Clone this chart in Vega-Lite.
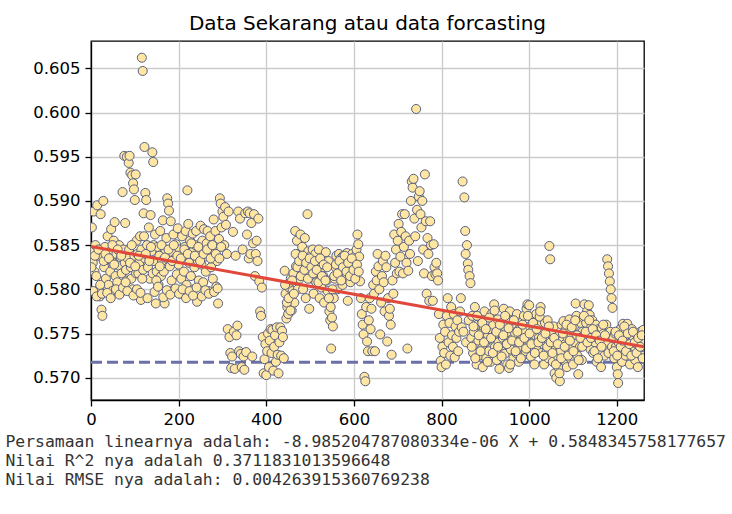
{
"$schema": "https://vega.github.io/schema/vega-lite/v6.json",
"autosize": "none",
"width": 553,
"height": 359,
"padding": {"left": 91, "top": 41, "right": 88, "bottom": 114},
"background": "white",
"title": {"text": "Data Sekarang atau data forcasting", "font": "DejaVu Sans", "fontSize": 20, "fontWeight": "normal", "color": "black", "anchor": "middle", "offset": 7},
"datasets": {
"pts": [
{"i":0,"v":0.5845},{"i":2,"v":0.5870},{"i":4,"v":0.5830},{"i":6,"v":0.5888},{"i":8,"v":0.5820},{"i":10,"v":0.5850},{"i":12,"v":0.5815},{"i":14,"v":0.5895},{"i":16,"v":0.5838},{"i":18,"v":0.5800},{"i":20,"v":0.5792},{"i":22,"v":0.5885},{"i":24,"v":0.5777},{"i":26,"v":0.5770},{"i":28,"v":0.5900},
{"i":30,"v":0.5825},{"i":32,"v":0.5848},{"i":34,"v":0.5812},{"i":36,"v":0.5835},{"i":38,"v":0.5860},{"i":40,"v":0.5805},{"i":42,"v":0.5842},{"i":44,"v":0.5820},{"i":46,"v":0.5868},{"i":48,"v":0.5798},{"i":50,"v":0.5830},{"i":52,"v":0.5855},{"i":54,"v":0.5876},{"i":56,"v":0.5815},{"i":58,"v":0.5840},{"i":60,"v":0.5808},{"i":62,"v":0.5827},{"i":64,"v":0.5850},{"i":66,"v":0.5795},{"i":68,"v":0.5836},{"i":70,"v":0.5818},{"i":72,"v":0.5910},{"i":74,"v":0.5845},
{"i":76,"v":0.5951},{"i":77,"v":0.5830},{"i":78,"v":0.5875},{"i":80,"v":0.5822},{"i":81,"v":0.5810},{"i":82,"v":0.5950},{"i":84,"v":0.5835},{"i":86,"v":0.5943},{"i":87,"v":0.5845},{"i":88,"v":0.5951},{"i":90,"v":0.5932},{"i":91,"v":0.5825},{"i":92,"v":0.5812},{"i":94,"v":0.5929},{"i":95,"v":0.5800},{"i":96,"v":0.5920},{"i":98,"v":0.5913},{"i":99,"v":0.5838},{"i":100,"v":0.5901},{"i":102,"v":0.5930},{"i":103,"v":0.5818},{"i":104,"v":0.5855},{"i":106,"v":0.5840},
{"i":108,"v":0.5818},{"i":110,"v":0.5830},{"i":112,"v":0.5860},{"i":114,"v":0.5788},{"i":115,"v":0.5845},{"i":116,"v":0.6062},{"i":118,"v":0.6047},{"i":119,"v":0.5822},{"i":120,"v":0.5886},{"i":121,"v":0.5860},{"i":122,"v":0.5961},{"i":123,"v":0.5835},{"i":124,"v":0.5909},{"i":126,"v":0.5901},{"i":128,"v":0.5850},{"i":130,"v":0.5825},{"i":132,"v":0.5870},{"i":134,"v":0.5812},{"i":136,"v":0.5884},{"i":138,"v":0.5843},{"i":140,"v":0.5955},{"i":141,"v":0.5818},{"i":142,"v":0.5944},{"i":143,"v":0.5850},{"i":144,"v":0.5832},{"i":146,"v":0.5862},{"i":148,"v":0.5784},{"i":150,"v":0.5820},{"i":152,"v":0.5848},{"i":154,"v":0.5805},{"i":156,"v":0.5838},{"i":158,"v":0.5866},{"i":160,"v":0.5815},
{"i":162,"v":0.5832},{"i":164,"v":0.5878},{"i":166,"v":0.5820},{"i":168,"v":0.5784},{"i":170,"v":0.5845},{"i":172,"v":0.5858},{"i":174,"v":0.5903},{"i":176,"v":0.5897},{"i":178,"v":0.5889},{"i":180,"v":0.5826},{"i":182,"v":0.5877},{"i":184,"v":0.5810},{"i":186,"v":0.5842},{"i":188,"v":0.5862},{"i":190,"v":0.5800},{"i":192,"v":0.5835},{"i":194,"v":0.5851},{"i":196,"v":0.5817},{"i":198,"v":0.5869},{"i":200,"v":0.5828},{"i":202,"v":0.5845},{"i":204,"v":0.5795},{"i":206,"v":0.5812},{"i":208,"v":0.5860},{"i":210,"v":0.5838},{"i":212,"v":0.5820},{"i":214,"v":0.5848},{"i":216,"v":0.5866},{"i":218,"v":0.5805},{"i":220,"v":0.5912},{"i":222,"v":0.5874},{"i":224,"v":0.5830},{"i":226,"v":0.5855},{"i":228,"v":0.5815},{"i":230,"v":0.5842},{"i":232,"v":0.5863},{"i":234,"v":0.5800},{"i":236,"v":0.5825},{"i":238,"v":0.5850},{"i":240,"v":0.5866},{"i":242,"v":0.5786},{"i":244,"v":0.5832},{"i":246,"v":0.5810},{"i":248,"v":0.5845},{"i":250,"v":0.5872},{"i":252,"v":0.5828},{"i":254,"v":0.5855},{"i":256,"v":0.5808},{"i":258,"v":0.5868},{"i":260,"v":0.5837},{"i":262,"v":0.5820},{"i":264,"v":0.5852},{"i":266,"v":0.5866},{"i":268,"v":0.5798},{"i":270,"v":0.5840},{"i":272,"v":0.5860},{"i":274,"v":0.5825},{"i":276,"v":0.5850},{"i":278,"v":0.5812},{"i":280,"v":0.5879},{"i":282,"v":0.5843},{"i":284,"v":0.5866},{"i":286,"v":0.5803},{"i":288,"v":0.5832},{"i":290,"v":0.5784},{"i":292,"v":0.5857},{"i":294,"v":0.5903},{"i":296,"v":0.5897},{"i":298,"v":0.5870},{"i":300,"v":0.5888},
{"i":302,"v":0.5882},{"i":304,"v":0.5850},{"i":306,"v":0.5893},{"i":308,"v":0.5873},{"i":310,"v":0.5840},{"i":312,"v":0.5755},{"i":314,"v":0.5888},{"i":316,"v":0.5746},{"i":318,"v":0.5728},{"i":320,"v":0.5711},{"i":322,"v":0.5724},{"i":324,"v":0.5865},{"i":326,"v":0.5752},{"i":328,"v":0.5710},{"i":330,"v":0.5838},{"i":332,"v":0.5748},{"i":334,"v":0.5759},{"i":336,"v":0.5888},{"i":338,"v":0.5730},{"i":340,"v":0.5880},{"i":342,"v":0.5727},{"i":344,"v":0.5712},{"i":346,"v":0.5845},{"i":348,"v":0.5724},{"i":350,"v":0.5709},{"i":352,"v":0.5886},{"i":354,"v":0.5729},{"i":356,"v":0.5862},{"i":358,"v":0.5888},{"i":360,"v":0.5835},{"i":362,"v":0.5886},{"i":364,"v":0.5840},{"i":366,"v":0.5875},{"i":368,"v":0.5724},{"i":370,"v":0.5852},{"i":372,"v":0.5885},{"i":374,"v":0.5815},{"i":376,"v":0.5840},{"i":378,"v":0.5855},{"i":380,"v":0.5832},{"i":382,"v":0.5880},{"i":384,"v":0.5809},{"i":386,"v":0.5775},{"i":388,"v":0.5770},{"i":390,"v":0.5802},
{"i":392,"v":0.5746},{"i":394,"v":0.5705},{"i":396,"v":0.5721},{"i":398,"v":0.5738},{"i":400,"v":0.5703},{"i":402,"v":0.5730},{"i":404,"v":0.5750},{"i":406,"v":0.5712},{"i":408,"v":0.5742},{"i":410,"v":0.5755},{"i":412,"v":0.5728},{"i":414,"v":0.5754},{"i":416,"v":0.5708},{"i":418,"v":0.5735},{"i":420,"v":0.5748},{"i":422,"v":0.5718},{"i":424,"v":0.5757},{"i":426,"v":0.5726},{"i":428,"v":0.5705},{"i":430,"v":0.5740},{"i":432,"v":0.5757},{"i":434,"v":0.5725},{"i":436,"v":0.5753},{"i":438,"v":0.5746},{"i":440,"v":0.5722},
{"i":442,"v":0.5821},{"i":444,"v":0.5795},{"i":446,"v":0.5767},{"i":448,"v":0.5780},{"i":450,"v":0.5772},{"i":452,"v":0.5802},{"i":454,"v":0.5790},{"i":456,"v":0.5812},{"i":458,"v":0.5776},{"i":460,"v":0.5798},{"i":462,"v":0.5818},{"i":464,"v":0.5785},{"i":466,"v":0.5866},{"i":468,"v":0.5826},{"i":470,"v":0.5855},{"i":472,"v":0.5800},{"i":474,"v":0.5840},{"i":476,"v":0.5812},{"i":478,"v":0.5862},{"i":480,"v":0.5822},{"i":482,"v":0.5848},{"i":484,"v":0.5800},{"i":486,"v":0.5835},{"i":488,"v":0.5858},{"i":490,"v":0.5790},{"i":492,"v":0.5817},{"i":494,"v":0.5885},{"i":496,"v":0.5843},{"i":498,"v":0.5778},{"i":500,"v":0.5820},
{"i":502,"v":0.5838},{"i":504,"v":0.5812},{"i":506,"v":0.5845},{"i":508,"v":0.5795},{"i":510,"v":0.5825},{"i":512,"v":0.5840},{"i":514,"v":0.5808},{"i":516,"v":0.5830},{"i":518,"v":0.5818},{"i":520,"v":0.5845},{"i":522,"v":0.5790},{"i":524,"v":0.5822},{"i":526,"v":0.5802},{"i":528,"v":0.5836},{"i":530,"v":0.5815},{"i":532,"v":0.5785},{"i":534,"v":0.5828},{"i":536,"v":0.5842},{"i":538,"v":0.5810},{"i":540,"v":0.5798},{"i":542,"v":0.5832},{"i":544,"v":0.5775},{"i":546,"v":0.5765},{"i":548,"v":0.5733},{"i":550,"v":0.5768},{"i":552,"v":0.5758},{"i":554,"v":0.5790},{"i":556,"v":0.5812},{"i":558,"v":0.5825},{"i":560,"v":0.5838},
{"i":562,"v":0.5800},{"i":564,"v":0.5829},{"i":566,"v":0.5840},{"i":568,"v":0.5815},{"i":570,"v":0.5835},{"i":572,"v":0.5822},{"i":574,"v":0.5805},{"i":576,"v":0.5838},{"i":578,"v":0.5826},{"i":580,"v":0.5812},{"i":582,"v":0.5832},{"i":584,"v":0.5841},{"i":586,"v":0.5787},{"i":588,"v":0.5820},{"i":590,"v":0.5836},{"i":592,"v":0.5808},{"i":594,"v":0.5828},{"i":596,"v":0.5840},{"i":598,"v":0.5815},{"i":600,"v":0.5832},{"i":602,"v":0.5822},{"i":604,"v":0.5838},{"i":606,"v":0.5845},{"i":608,"v":0.5862},{"i":610,"v":0.5851},{"i":612,"v":0.5837},
{"i":614,"v":0.5809},{"i":616,"v":0.5790},{"i":618,"v":0.5772},{"i":620,"v":0.5760},{"i":622,"v":0.5749},{"i":624,"v":0.5701},{"i":626,"v":0.5696},{"i":628,"v":0.5780},{"i":630,"v":0.5741},{"i":632,"v":0.5730},{"i":634,"v":0.5765},{"i":636,"v":0.5790},{"i":638,"v":0.5755},
{"i":640,"v":0.5778},{"i":642,"v":0.5730},{"i":644,"v":0.5805},{"i":646,"v":0.5795},{"i":648,"v":0.5730},{"i":650,"v":0.5820},{"i":652,"v":0.5810},{"i":654,"v":0.5840},{"i":656,"v":0.5826},{"i":658,"v":0.5800},{"i":660,"v":0.5749},{"i":662,"v":0.5785},{"i":664,"v":0.5815},{"i":666,"v":0.5832},{"i":668,"v":0.5808},{"i":670,"v":0.5775},{"i":672,"v":0.5838},{"i":674,"v":0.5825},{"i":676,"v":0.5741},{"i":678,"v":0.5790},{"i":680,"v":0.5770},{"i":682,"v":0.5778},{"i":684,"v":0.5760},{"i":686,"v":0.5726},{"i":688,"v":0.5810},{"i":690,"v":0.5795},{"i":692,"v":0.5862},{"i":694,"v":0.5830},{"i":696,"v":0.5845},{"i":698,"v":0.5818},{"i":700,"v":0.5855},
{"i":702,"v":0.5874},{"i":704,"v":0.5820},{"i":706,"v":0.5837},{"i":708,"v":0.5865},{"i":710,"v":0.5885},{"i":712,"v":0.5818},{"i":714,"v":0.5848},{"i":716,"v":0.5885},{"i":718,"v":0.5860},{"i":720,"v":0.5830},{"i":722,"v":0.5733},{"i":724,"v":0.5821},{"i":726,"v":0.5855},{"i":728,"v":0.5840},{"i":730,"v":0.5900},{"i":732,"v":0.5922},{"i":734,"v":0.5915},{"i":736,"v":0.5925},{"i":738,"v":0.5880},{"i":740,"v":0.5860},{"i":742,"v":0.6004},{"i":744,"v":0.5890},{"i":746,"v":0.5832},{"i":748,"v":0.5905},{"i":750,"v":0.5911},{"i":752,"v":0.5885},{"i":754,"v":0.5870},{"i":756,"v":0.5900},{"i":758,"v":0.5845},{"i":760,"v":0.5818},{"i":762,"v":0.5930},{"i":764,"v":0.5877},{"i":766,"v":0.5795},{"i":768,"v":0.5858},{"i":770,"v":0.5840},{"i":772,"v":0.5787},{"i":774,"v":0.5877},{"i":776,"v":0.5850},{"i":778,"v":0.5815},{"i":780,"v":0.5787},{"i":782,"v":0.5851},{"i":784,"v":0.5825},{"i":786,"v":0.5817},{"i":788,"v":0.5830},{"i":790,"v":0.5818},{"i":792,"v":0.5810},
{"i":794,"v":0.5772},{"i":796,"v":0.5745},{"i":798,"v":0.5719},{"i":800,"v":0.5712},{"i":802,"v":0.5735},{"i":804,"v":0.5760},{"i":806,"v":0.5728},{"i":808,"v":0.5752},{"i":810,"v":0.5715},{"i":812,"v":0.5770},{"i":814,"v":0.5790},{"i":816,"v":0.5740},{"i":818,"v":0.5762},{"i":820,"v":0.5725},{"i":822,"v":0.5780},{"i":824,"v":0.5748},{"i":826,"v":0.5735},{"i":828,"v":0.5772},{"i":830,"v":0.5723},{"i":832,"v":0.5758},{"i":834,"v":0.5745},{"i":836,"v":0.5765},{"i":838,"v":0.5730},{"i":840,"v":0.5752},{"i":842,"v":0.5775},{"i":844,"v":0.5790},{"i":846,"v":0.5757},
{"i":848,"v":0.5922},{"i":850,"v":0.5752},{"i":852,"v":0.5904},{"i":854,"v":0.5866},{"i":855,"v":0.5840},{"i":856,"v":0.5740},{"i":858,"v":0.5850},{"i":860,"v":0.5829},{"i":861,"v":0.5822},{"i":862,"v":0.5765},{"i":864,"v":0.5815},{"i":866,"v":0.5807},
{"i":868,"v":0.5745},{"i":870,"v":0.5770},{"i":872,"v":0.5728},{"i":874,"v":0.5752},{"i":876,"v":0.5780},{"i":878,"v":0.5738},{"i":880,"v":0.5715},{"i":882,"v":0.5760},{"i":884,"v":0.5742},{"i":886,"v":0.5725},{"i":888,"v":0.5768},{"i":890,"v":0.5750},{"i":892,"v":0.5733},{"i":894,"v":0.5712},{"i":896,"v":0.5758},{"i":898,"v":0.5775},{"i":900,"v":0.5740},{"i":902,"v":0.5722},{"i":904,"v":0.5765},{"i":906,"v":0.5748},{"i":908,"v":0.5730},{"i":910,"v":0.5755},{"i":912,"v":0.5718},{"i":914,"v":0.5772},{"i":916,"v":0.5743},{"i":918,"v":0.5760},{"i":920,"v":0.5783},{"i":922,"v":0.5735},{"i":924,"v":0.5750},{"i":926,"v":0.5720},{"i":928,"v":0.5766},{"i":930,"v":0.5740},{"i":932,"v":0.5710},{"i":934,"v":0.5752},{"i":936,"v":0.5731},{"i":938,"v":0.5762},{"i":940,"v":0.5745},{"i":942,"v":0.5778},{"i":944,"v":0.5727},{"i":946,"v":0.5757},{"i":948,"v":0.5738},{"i":950,"v":0.5715},{"i":952,"v":0.5748},{"i":954,"v":0.5711},{"i":956,"v":0.5775},{"i":958,"v":0.5732},{"i":960,"v":0.5760},{"i":962,"v":0.5744},{"i":964,"v":0.5722},{"i":966,"v":0.5766},{"i":968,"v":0.5750},{"i":970,"v":0.5728},{"i":972,"v":0.5772},{"i":974,"v":0.5740},{"i":976,"v":0.5718},{"i":978,"v":0.5755},{"i":980,"v":0.5735},{"i":982,"v":0.5762},{"i":984,"v":0.5745},{"i":986,"v":0.5725},{"i":988,"v":0.5770},{"i":990,"v":0.5752},{"i":992,"v":0.5730},{"i":994,"v":0.5778},{"i":996,"v":0.5783},{"i":998,"v":0.5742},{"i":1000,"v":0.5782},{"i":1002,"v":0.5758},{"i":1004,"v":0.5724},{"i":1006,"v":0.5768},{"i":1008,"v":0.5740},{"i":1010,"v":0.5755},{"i":1012,"v":0.5715},{"i":1014,"v":0.5748},{"i":1016,"v":0.5772},{"i":1018,"v":0.5732},{"i":1020,"v":0.5760},{"i":1022,"v":0.5745},{"i":1024,"v":0.5769},{"i":1026,"v":0.5780},{"i":1028,"v":0.5728},{"i":1030,"v":0.5752},{"i":1032,"v":0.5738},{"i":1034,"v":0.5715},{"i":1036,"v":0.5762},{"i":1038,"v":0.5745},{"i":1040,"v":0.5730},{"i":1042,"v":0.5765},{"i":1044,"v":0.5722},{"i":1046,"v":0.5849},{"i":1048,"v":0.5834},{"i":1050,"v":0.5750},{"i":1052,"v":0.5735},{"i":1054,"v":0.5718},{"i":1056,"v":0.5758},{"i":1058,"v":0.5705},{"i":1060,"v":0.5740},{"i":1062,"v":0.5700},{"i":1064,"v":0.5725},{"i":1066,"v":0.5712},{"i":1068,"v":0.5748},{"i":1070,"v":0.5696},{"i":1072,"v":0.5730},{"i":1074,"v":0.5760},{"i":1076,"v":0.5742},{"i":1078,"v":0.5764},{"i":1080,"v":0.5720},{"i":1082,"v":0.5738},{"i":1084,"v":0.5755},{"i":1086,"v":0.5712},{"i":1088,"v":0.5745},{"i":1090,"v":0.5730},{"i":1092,"v":0.5766},{"i":1094,"v":0.5722},{"i":1096,"v":0.5750},{"i":1098,"v":0.5735},{"i":1100,"v":0.5715},{"i":1102,"v":0.5758},{"i":1104,"v":0.5740},{"i":1106,"v":0.5784},{"i":1108,"v":0.5770},{"i":1110,"v":0.5725},{"i":1112,"v":0.5704},{"i":1114,"v":0.5748},{"i":1116,"v":0.5735},{"i":1118,"v":0.5762},{"i":1120,"v":0.5720},{"i":1122,"v":0.5752},{"i":1124,"v":0.5768},{"i":1126,"v":0.5783},{"i":1128,"v":0.5740},{"i":1130,"v":0.5762},{"i":1132,"v":0.5775},{"i":1134,"v":0.5745},{"i":1136,"v":0.5782},{"i":1138,"v":0.5771},{"i":1140,"v":0.5732},{"i":1142,"v":0.5758},{"i":1144,"v":0.5765},{"i":1146,"v":0.5728},{"i":1148,"v":0.5750},{"i":1150,"v":0.5740},{"i":1152,"v":0.5760},{"i":1154,"v":0.5718},{"i":1156,"v":0.5745},{"i":1158,"v":0.5755},{"i":1160,"v":0.5730},{"i":1162,"v":0.5748},{"i":1164,"v":0.5712},{"i":1166,"v":0.5756},{"i":1168,"v":0.5738},{"i":1170,"v":0.5750},{"i":1172,"v":0.5725},{"i":1174,"v":0.5742},{"i":1176,"v":0.5760},{"i":1177,"v":0.5740},{"i":1178,"v":0.5834},{"i":1180,"v":0.5826},{"i":1181,"v":0.5728},{"i":1182,"v":0.5818},{"i":1184,"v":0.5809},{"i":1185,"v":0.5752},{"i":1186,"v":0.5800},{"i":1188,"v":0.5790},{"i":1189,"v":0.5735},{"i":1190,"v":0.5779},{"i":1192,"v":0.5745},{"i":1194,"v":0.5722},{"i":1196,"v":0.5750},{"i":1198,"v":0.5735},{"i":1200,"v":0.5712},{"i":1202,"v":0.5704},{"i":1203,"v":0.5694},{"i":1204,"v":0.5740},{"i":1206,"v":0.5728},{"i":1208,"v":0.5755},{"i":1210,"v":0.5745},{"i":1212,"v":0.5718},{"i":1214,"v":0.5761},{"i":1216,"v":0.5738},{"i":1218,"v":0.5750},{"i":1220,"v":0.5725},{"i":1222,"v":0.5745},{"i":1224,"v":0.5761},{"i":1226,"v":0.5732},{"i":1228,"v":0.5748},{"i":1230,"v":0.5715},{"i":1232,"v":0.5740},{"i":1234,"v":0.5755},{"i":1236,"v":0.5728},{"i":1238,"v":0.5745},{"i":1240,"v":0.5735},{"i":1242,"v":0.5720},{"i":1244,"v":0.5750},{"i":1246,"v":0.5738},{"i":1248,"v":0.5712},{"i":1250,"v":0.5745},{"i":1252,"v":0.5730},{"i":1254,"v":0.5752},{"i":1256,"v":0.5725},{"i":1258,"v":0.5740},{"i":1260,"v":0.5754},
{"i":1,"v":0.5825},{"i":5,"v":0.5798},{"i":9,"v":0.5838},{"i":13,"v":0.5792},{"i":17,"v":0.5845},{"i":21,"v":0.5805},{"i":25,"v":0.5795},{"i":29,"v":0.5832},{"i":33,"v":0.5840},{"i":37,"v":0.5796},{"i":41,"v":0.5835},{"i":45,"v":0.5790},{"i":49,"v":0.5850},{"i":53,"v":0.5828},{"i":57,"v":0.5800},{"i":61,"v":0.5845},{"i":65,"v":0.5794},{"i":69,"v":0.5838},{"i":73,"v":0.5802},{"i":79,"v":0.5808},{"i":83,"v":0.5798},{"i":89,"v":0.5830},{"i":93,"v":0.5850},{"i":97,"v":0.5793},{"i":101,"v":0.5826},{"i":105,"v":0.5800},{"i":109,"v":0.5838},{"i":113,"v":0.5796},{"i":117,"v":0.5812},{"i":125,"v":0.5840},{"i":129,"v":0.5790},{"i":133,"v":0.5832},{"i":137,"v":0.5848},{"i":145,"v":0.5797},{"i":149,"v":0.5810},{"i":153,"v":0.5803},{"i":157,"v":0.5826},{"i":161,"v":0.5850},{"i":165,"v":0.5791},{"i":169,"v":0.5836},{"i":173,"v":0.5799},{"i":177,"v":0.5845},{"i":181,"v":0.5794},{"i":185,"v":0.5832},{"i":189,"v":0.5850},{"i":193,"v":0.5801},{"i":197,"v":0.5838},{"i":201,"v":0.5795},{"i":205,"v":0.5835},{"i":209,"v":0.5800},{"i":213,"v":0.5845},{"i":217,"v":0.5790},{"i":221,"v":0.5840},{"i":225,"v":0.5798},{"i":229,"v":0.5852},{"i":233,"v":0.5793},{"i":237,"v":0.5838},{"i":241,"v":0.5802},{"i":245,"v":0.5848},{"i":249,"v":0.5832},{"i":253,"v":0.5792},{"i":257,"v":0.5840},{"i":261,"v":0.5799},{"i":265,"v":0.5845},{"i":269,"v":0.5795},{"i":273,"v":0.5835},{"i":277,"v":0.5850},{"i":281,"v":0.5797},{"i":285,"v":0.5840},{"i":289,"v":0.5801},{"i":293,"v":0.5835},{"i":297,"v":0.5848},
{"i":443,"v":0.5805},{"i":447,"v":0.5785},{"i":451,"v":0.5790},{"i":455,"v":0.5776},{"i":459,"v":0.5810},{"i":463,"v":0.5795},{"i":467,"v":0.5840},{"i":471,"v":0.5825},{"i":475,"v":0.5832},{"i":479,"v":0.5815},{"i":483,"v":0.5838},{"i":487,"v":0.5822},{"i":491,"v":0.5830},{"i":495,"v":0.5812},{"i":499,"v":0.5835},{"i":503,"v":0.5825},{"i":507,"v":0.5818},{"i":511,"v":0.5832},{"i":515,"v":0.5822},{"i":519,"v":0.5808},{"i":523,"v":0.5835},{"i":527,"v":0.5815},{"i":531,"v":0.5828},{"i":535,"v":0.5810},{"i":539,"v":0.5825},{"i":543,"v":0.5790},{"i":547,"v":0.5780},{"i":551,"v":0.5800},{"i":555,"v":0.5815},{"i":559,"v":0.5828},{"i":563,"v":0.5818},{"i":567,"v":0.5832},{"i":571,"v":0.5810},{"i":575,"v":0.5825},{"i":579,"v":0.5838},{"i":583,"v":0.5820},{"i":587,"v":0.5830},{"i":591,"v":0.5815},{"i":595,"v":0.5835},{"i":599,"v":0.5822},{"i":603,"v":0.5812},{"i":607,"v":0.5828},{"i":611,"v":0.5820},
{"i":869,"v":0.5735},{"i":873,"v":0.5758},{"i":877,"v":0.5722},{"i":881,"v":0.5770},{"i":885,"v":0.5748},{"i":889,"v":0.5730},{"i":893,"v":0.5762},{"i":897,"v":0.5740},{"i":901,"v":0.5755},{"i":905,"v":0.5718},{"i":909,"v":0.5768},{"i":913,"v":0.5745},{"i":917,"v":0.5728},{"i":921,"v":0.5776},{"i":925,"v":0.5752},{"i":929,"v":0.5735},{"i":933,"v":0.5760},{"i":937,"v":0.5724},{"i":941,"v":0.5748},{"i":945,"v":0.5770},{"i":949,"v":0.5738},{"i":953,"v":0.5756},{"i":957,"v":0.5715},{"i":961,"v":0.5742},{"i":965,"v":0.5765},{"i":969,"v":0.5730},{"i":973,"v":0.5752},{"i":977,"v":0.5740},{"i":981,"v":0.5722},{"i":985,"v":0.5760},{"i":989,"v":0.5745},{"i":993,"v":0.5733},{"i":997,"v":0.5770},{"i":1001,"v":0.5750},{"i":1005,"v":0.5738},{"i":1009,"v":0.5762},{"i":1013,"v":0.5728},{"i":1017,"v":0.5755},{"i":1021,"v":0.5740},{"i":1025,"v":0.5775},{"i":1029,"v":0.5745},{"i":1033,"v":0.5725},{"i":1037,"v":0.5750},{"i":1041,"v":0.5735},{"i":1045,"v":0.5758},{"i":1049,"v":0.5740},{"i":1053,"v":0.5728},{"i":1057,"v":0.5745},{"i":1061,"v":0.5715},{"i":1065,"v":0.5738},{"i":1069,"v":0.5705},{"i":1073,"v":0.5722},{"i":1077,"v":0.5750},{"i":1081,"v":0.5735},{"i":1085,"v":0.5760},{"i":1089,"v":0.5725},{"i":1093,"v":0.5742},{"i":1097,"v":0.5757},{"i":1101,"v":0.5730},{"i":1105,"v":0.5765},{"i":1109,"v":0.5748},{"i":1113,"v":0.5720},{"i":1117,"v":0.5745},{"i":1121,"v":0.5735},{"i":1125,"v":0.5770},{"i":1129,"v":0.5752},{"i":1133,"v":0.5740},{"i":1137,"v":0.5765},{"i":1141,"v":0.5745},{"i":1145,"v":0.5755},{"i":1149,"v":0.5730},{"i":1153,"v":0.5748},{"i":1157,"v":0.5722},{"i":1161,"v":0.5742},{"i":1165,"v":0.5735},{"i":1169,"v":0.5760},{"i":1173,"v":0.5748},{"i":1193,"v":0.5730},{"i":1197,"v":0.5752},{"i":1201,"v":0.5725},{"i":1205,"v":0.5748},{"i":1209,"v":0.5735},{"i":1213,"v":0.5742},{"i":1217,"v":0.5758},{"i":1221,"v":0.5730},{"i":1225,"v":0.5750},{"i":1229,"v":0.5738},{"i":1233,"v":0.5725},{"i":1237,"v":0.5752},{"i":1241,"v":0.5740},{"i":1245,"v":0.5728},{"i":1249,"v":0.5745},{"i":1253,"v":0.5735},{"i":1257,"v":0.5748},{"i":1259,"v":0.5722}
]
},
"encoding": {
"x": {"field": "i", "type": "quantitative", "scale": {"domain": [0, 1262], "nice": false, "zero": false},
 "axis": {"values": [0, 200, 400, 600, 800, 1000, 1200], "format": "d",
  "title": ["Persamaan linearnya adalah: -8.985204787080334e-06 X + 0.5848345758177657", "Nilai R^2 nya adalah 0.3711831013596648", "Nilai RMSE nya adalah: 0.004263915360769238"],
  "titleFont": "DejaVu Sans Mono", "titleFontSize": 16.4, "titleFontWeight": "normal", "titleColor": "#333333",
  "titleAlign": "left", "titleAnchor": "start", "titleBaseline": "top", "titleX": -86, "titleY": 33, "titleLineHeight": 19}},
"y": {"field": "v", "type": "quantitative", "scale": {"domain": [0.56748, 0.60809], "nice": false, "zero": false},
 "axis": {"values": [0.570, 0.575, 0.580, 0.585, 0.590, 0.595, 0.600, 0.605], "format": ".3f", "title": null}}
},
"layer": [
{"data": {"values": [{"i": 0, "v": 0.57174}, {"i": 1262, "v": 0.57174}]},
 "mark": {"type": "line", "color": "#6b70a8", "strokeWidth": 3, "strokeDash": [11, 5], "clip": true}},
{"data": {"name": "pts"},
 "mark": {"type": "point", "filled": false, "shape": "circle", "size": 82, "fill": "#ffe7a3", "fillOpacity": 1, "stroke": "#59607f", "strokeWidth": 1, "opacity": 1, "clip": true}},
{"data": {"values": [{"i": 0, "v": 0.5848346}, {"i": 1262, "v": 0.5734954}]},
 "mark": {"type": "line", "color": "#e2473c", "strokeWidth": 3, "clip": true}}
],
"config": {
"font": "DejaVu Sans",
"view": {"stroke": "black", "strokeWidth": 1.3},
"axis": {"grid": true, "gridColor": "#cbcbcb", "gridWidth": 1.3, "domainColor": "black", "domainWidth": 1.3, "tickColor": "black", "tickSize": 6, "tickWidth": 1.3,
 "labelFont": "DejaVu Sans", "labelFontSize": 16.5, "labelColor": "black", "labelPadding": 5, "labelFlush": false, "labelOverlap": false}
}
}
